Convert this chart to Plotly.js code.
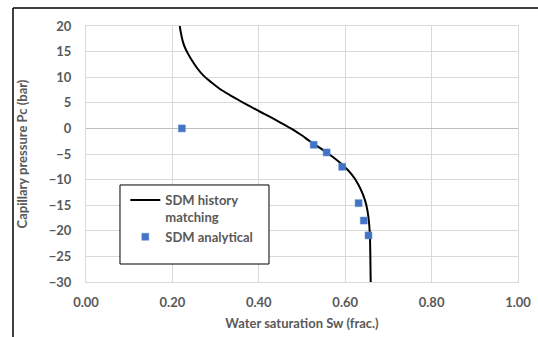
<!DOCTYPE html>
<html>
<head>
<meta charset="utf-8">
<script src="https://cdn.plot.ly/plotly-3.0.1.min.js"></script>
<style>html,body{margin:0;padding:0;background:#fff;}#chart{width:538px;height:337px;}</style>
</head>
<body>
<div id="chart"></div>
<script>
// SDM history matching curve (Sw, Pc)
const curveSw = [0.217, 0.220, 0.224, 0.229, 0.236, 0.245, 0.257, 0.272, 0.290, 0.310, 0.333, 0.356, 0.380, 0.402, 0.425, 0.449, 0.472, 0.495, 0.520, 0.545, 0.570, 0.596, 0.615, 0.630, 0.641, 0.649, 0.654, 0.657, 0.658, 0.659];
const curvePc = [20, 18.5, 17, 15.8, 14.6, 13.3, 11.8, 10.3, 9.0, 7.7, 6.5, 5.4, 4.3, 3.3, 2.3, 1.2, 0.1, -1.1, -2.6, -4.0, -5.5, -7.3, -9.0, -10.9, -12.9, -15.0, -17.5, -20.5, -24, -30];
// SDM analytical points
const anaSw = [0.222, 0.527, 0.557, 0.593, 0.631, 0.643, 0.654];
const anaPc = [0, -3.2, -4.7, -7.5, -14.6, -18.0, -20.9];

const seriesNames = ['SDM history<br>matching', 'SDM analytical'];
const xTitle = 'Water saturation Sw (frac.)';
const yTitle = 'Capillary pressure Pc (bar)';

const fontFam = 'Lato, "Open Sans", sans-serif';
const gray = '#595959';

const traces = [
  {x: curveSw, y: curvePc, mode: 'lines', name: seriesNames[0], line: {color: '#000', width: 2, shape: 'spline', smoothing: 0.8}},
  {x: anaSw, y: anaPc, mode: 'markers', name: seriesNames[1], marker: {symbol: 'square', size: 7, color: '#4472C4', line: {color: '#5b8bd6', width: 0.5}}}
];

const layout = {
  width: 538, height: 337,
  margin: {l: 86, r: 20, t: 26, b: 55},
  paper_bgcolor: '#fff', plot_bgcolor: '#fff',
  font: {family: fontFam, color: gray, size: 13, weight: 'bold'},
  showlegend: true,
  legend: {x: 0.091, y: 0.379, xanchor: 'left', yanchor: 'top', bgcolor: 'rgba(0,0,0,0)', borderwidth: 0,
           valign: 'top',
           font: {family: fontFam, size: 13, color: gray, weight: 'bold'}, tracegroupgap: 2},
  xaxis: {range: [0, 1], dtick: 0.2, tick0: 0, tickformat: '.2f', showgrid: true, gridcolor: '#d9d9d9', gridwidth: 1,
          zeroline: false, showline: true, linecolor: '#d9d9d9', mirror: true, ticks: '', ticklabelstandoff: 8,
          tickfont: {family: fontFam, size: 13, color: gray, weight: 'bold'},
          title: {text: xTitle, font: {family: fontFam, size: 13, color: gray, weight: 'bold'}, standoff: 10}},
  yaxis: {range: [-30, 20], dtick: 5, tick0: 0, showgrid: true, gridcolor: '#d9d9d9', gridwidth: 1,
          zeroline: true, zerolinecolor: '#bfbfbf', zerolinewidth: 1, showline: true, linecolor: '#d9d9d9', mirror: true, ticks: '',
          ticklabelstandoff: 11,
          tickfont: {family: fontFam, size: 13, color: gray, weight: 'bold'},
          title: {text: yTitle, font: {family: fontFam, size: 13, color: gray, weight: 'bold'}, standoff: 18}},
  shapes: [
    {type: 'rect', xref: 'paper', yref: 'paper', x0: 0.0787, x1: 0.4236, y0: 0.0703, y1: 0.379, layer: 'above',
     fillcolor: '#fff', line: {color: '#000', width: 1}},
    {type: 'line', xref: 'paper', yref: 'paper', x0: -0.169, x1: 1.05, y0: 1.0703, y1: 1.0703, line: {color: '#000', width: 1.5}},
    {type: 'line', xref: 'paper', yref: 'paper', x0: -0.169, x1: -0.169, y0: 1.0703, y1: -0.25, line: {color: '#000', width: 1.5}}
  ]
};

Plotly.newPlot('chart', traces, layout, {displayModeBar: false, staticPlot: true});
</script>
</body>
</html>
